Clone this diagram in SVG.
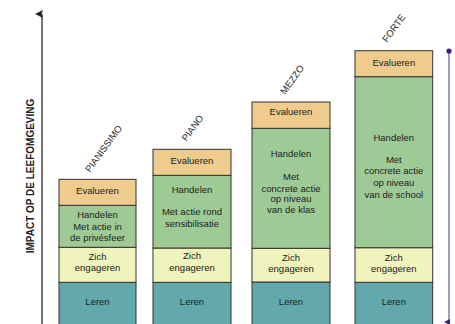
<svg xmlns="http://www.w3.org/2000/svg" width="455" height="324" viewBox="0 0 455 324">
<style>
text{font-family:"Liberation Sans",Arial,sans-serif;font-size:9.5px;fill:#222;text-anchor:middle}
.lbl{text-anchor:start;font-size:9.5px}
.ax{font-weight:bold;font-size:10px}
rect{stroke:#333;stroke-width:1}
.ev{fill:#EFCC8E}.ha{fill:#9ECA95}.zi{fill:#F0F3BC}.le{fill:#62A8AD}
</style>
<defs>
<marker id="ah" markerWidth="8" markerHeight="8" refX="4" refY="7" orient="auto" markerUnits="userSpaceOnUse" viewBox="0 0 8 8">
<path d="M0,8 L4,0 L8,8 L4,6.5 Z" fill="#222"/>
</marker>
<marker id="pa" markerWidth="8" markerHeight="8" refX="4" refY="1" orient="auto" markerUnits="userSpaceOnUse" viewBox="0 0 8 8">
<path d="M1,0 L7,0 L4,6 Z" fill="#3d1a8c"/>
</marker>
</defs>
<g id="connectors">
<line x1="42" y1="326" x2="42" y2="14" stroke="#444" stroke-width="1.5" marker-end="url(#ah)"/>
<line x1="449" y1="51" x2="449" y2="322" stroke="#7a5cae" stroke-width="1.3" marker-end="url(#pa)"/>
<circle cx="449" cy="51" r="2.6" fill="#3d1a8c"/>
</g>
<g id="axis-label"><text class="ax" transform="translate(33.5,176) rotate(-90)">IMPACT OP DE LEEFOMGEVING</text></g>
<g id="pianissimo">
<text class="lbl" transform="translate(90,173) rotate(-54)">PIANISSIMO</text>
<rect class="le" x="59" y="282.3" width="77" height="45"/>
<rect class="zi" x="59" y="247.3" width="77" height="35"/>
<rect class="ha" x="59" y="205.3" width="77" height="42"/>
<rect class="ev" x="59" y="179.3" width="77" height="26"/>
<text x="97.5" y="194">Evalueren</text>
<text x="97.5" y="218.3">Handelen</text>
<text x="97.5" y="230">Met actie in</text>
<text x="97.5" y="241.3">de privésfeer</text>
<text x="97.5" y="260">Zich</text>
<text x="97.5" y="271">engageren</text>
<text x="97.5" y="305">Leren</text>
</g>
<g id="piano">
<text class="lbl" transform="translate(186.5,142) rotate(-54)">PIANO</text>
<rect class="le" x="153" y="282.3" width="78" height="45"/>
<rect class="zi" x="153" y="248" width="78" height="34.3"/>
<rect class="ha" x="153" y="175.3" width="78" height="72.7"/>
<rect class="ev" x="153" y="149.3" width="78" height="26"/>
<text x="192" y="164">Evalueren</text>
<text x="192" y="193.3">Handelen</text>
<text x="192" y="215.3">Met actie rond</text>
<text x="192" y="227.3">sensibilisatie</text>
<text x="192" y="259">Zich</text>
<text x="192" y="271">engageren</text>
<text x="192" y="305.3">Leren</text>
</g>
<g id="mezzo">
<text class="lbl" transform="translate(285,95) rotate(-54)">MEZZO</text>
<rect class="le" x="252" y="282" width="78" height="45"/>
<rect class="zi" x="252" y="248.3" width="78" height="33.7"/>
<rect class="ha" x="252" y="128.3" width="78" height="120"/>
<rect class="ev" x="252" y="102" width="78" height="26.3"/>
<text x="291" y="115">Evalueren</text>
<text x="291" y="157.3">Handelen</text>
<text x="291" y="180">Met</text>
<text x="291" y="191.6">concrete actie</text>
<text x="291" y="202.3">op niveau</text>
<text x="291" y="213.3">van de klas</text>
<text x="291" y="260.6">Zich</text>
<text x="291" y="272">engageren</text>
<text x="291" y="305.3">Leren</text>
</g>
<g id="forte">
<text class="lbl" transform="translate(387,43) rotate(-54)">FORTE</text>
<rect class="le" x="355" y="282.3" width="77.7" height="45"/>
<rect class="zi" x="355" y="247.7" width="77.7" height="34.6"/>
<rect class="ha" x="355" y="76.7" width="77.7" height="171"/>
<rect class="ev" x="355" y="50.7" width="77.7" height="26"/>
<text x="393.8" y="66.3">Evalueren</text>
<text x="393.8" y="141">Handelen</text>
<text x="393.8" y="162.6">Met</text>
<text x="393.8" y="174.3">concrete actie</text>
<text x="393.8" y="185.6">op niveau</text>
<text x="393.8" y="197.6">van de school</text>
<text x="393.8" y="260.6">Zich</text>
<text x="393.8" y="271.6">engageren</text>
<text x="393.8" y="305">Leren</text>
</g>
</svg>
